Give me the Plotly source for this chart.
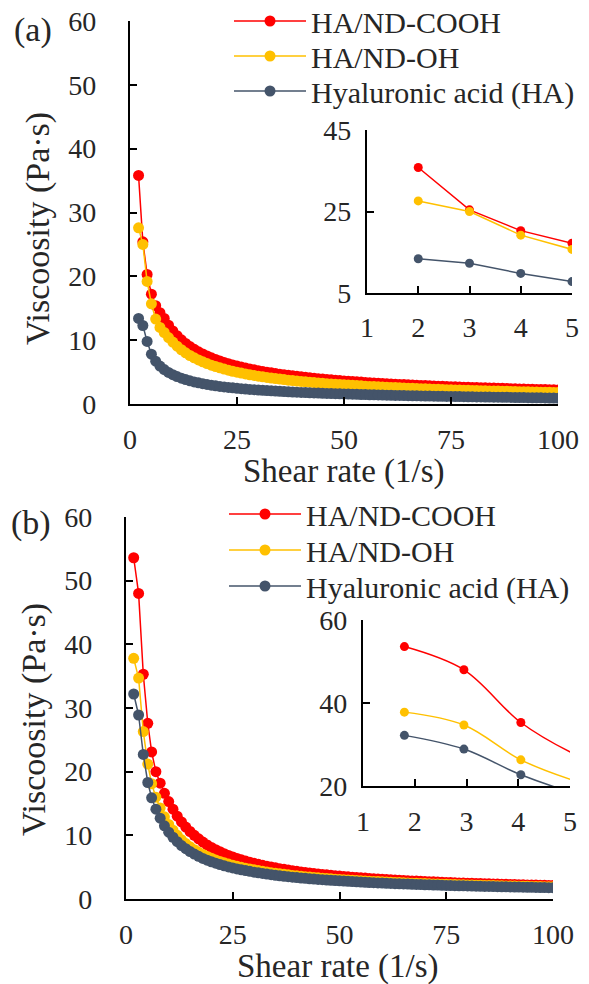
import plotly.graph_objects as go

# ---------------- data ----------------
names = ["HA/ND-COOH", "HA/ND-OH", "Hyaluronic acid (HA)"]
colors = ["#FF0000", "#FFC000", "#44546A"]

shear_a = list(range(2, 101))
cooh_a = [35.8, 25.4, 20.3, 17.2, 15.4, 14.3, 13.4, 12.35, 11.45, 10.7, 10.05, 9.49, 9.0, 8.57, 8.18,
          7.84, 7.52, 7.24, 6.98, 6.74, 6.52, 6.31, 6.12, 5.95, 5.78, 5.63, 5.48, 5.35, 5.22,
          5.10, 4.99, 4.88, 4.78, 4.68, 4.59, 4.50, 4.41, 4.33, 4.25,
          4.18, 4.11, 4.04, 3.97, 3.91, 3.85, 3.79, 3.73, 3.67, 3.62,
          3.57, 3.52, 3.47, 3.43, 3.38, 3.34, 3.30, 3.26, 3.22, 3.18,
          3.14, 3.11, 3.07, 3.04, 3.01, 2.97, 2.94, 2.91, 2.88, 2.85,
          2.82, 2.80, 2.77, 2.74, 2.72, 2.69, 2.67, 2.64, 2.62, 2.59,
          2.57, 2.55, 2.53, 2.51, 2.49, 2.47, 2.45, 2.43, 2.40, 2.38,
          2.36, 2.34, 2.33, 2.31, 2.29, 2.28, 2.26, 2.24, 2.23, 2.21]
oh_a = [27.6, 25.0, 19.2, 15.7, 13.3, 12.0, 11.2, 10.4, 9.7, 9.05, 8.5, 8.02, 7.6, 7.23, 6.9,
        6.6, 6.33, 6.09, 5.87, 5.66, 5.47, 5.3, 5.13, 4.98, 4.84, 4.71, 4.58, 4.47, 4.36,
        4.26, 4.16, 4.07, 3.98, 3.90, 3.82, 3.74, 3.67, 3.60, 3.53,
        3.47, 3.41, 3.35, 3.29, 3.24, 3.19, 3.14, 3.09, 3.04, 3.00,
        2.96, 2.92, 2.88, 2.84, 2.80, 2.76, 2.73, 2.69, 2.66, 2.63,
        2.60, 2.57, 2.54, 2.51, 2.48, 2.45, 2.42, 2.40, 2.37, 2.35,
        2.32, 2.30, 2.28, 2.25, 2.23, 2.21, 2.19, 2.17, 2.15, 2.13,
        2.11, 2.09, 2.07, 2.05, 2.03, 2.02, 2.00, 1.98, 1.97, 1.95,
        1.93, 1.92, 1.90, 1.89, 1.87, 1.86, 1.84, 1.83, 1.82, 1.80]
ha_a = [13.4, 12.3, 9.8, 7.8, 6.7, 5.95, 5.4, 4.95, 4.6, 4.3, 4.05, 3.83, 3.63, 3.46, 3.31,
        3.18, 3.06, 2.95, 2.85, 2.76, 2.68, 2.60, 2.53, 2.46, 2.40, 2.34, 2.29, 2.24, 2.19,
        2.14, 2.10, 2.06, 2.02, 1.98, 1.94, 1.91, 1.88, 1.85, 1.82,
        1.79, 1.76, 1.73, 1.71, 1.68, 1.66, 1.63, 1.61, 1.59, 1.57,
        1.55, 1.53, 1.51, 1.49, 1.47, 1.45, 1.43, 1.42, 1.40, 1.38,
        1.37, 1.35, 1.34, 1.32, 1.31, 1.29, 1.28, 1.27, 1.25, 1.24,
        1.23, 1.21, 1.20, 1.19, 1.18, 1.17, 1.16, 1.14, 1.13, 1.12,
        1.11, 1.10, 1.09, 1.08, 1.07, 1.06, 1.05, 1.04, 1.03, 1.02,
        1.01, 1.00, 0.99, 0.98, 0.97, 0.96, 0.95, 0.94, 0.93, 0.92]

shear_b = [1.8, 2.95, 4.05, 5.1] + list(range(6, 101))
cooh_b = [53.6, 48.0, 35.3, 27.6, 23.1, 20.0, 18.2, 16.6, 15.3, 14.1, 13.0, 12.1, 11.3, 10.6, 10.0,
          9.45, 8.95, 8.5, 8.1, 7.75, 7.42, 7.12, 6.85, 6.6, 6.37, 6.16, 5.96, 5.78, 5.6,
          5.44, 5.29, 5.15, 5.02, 4.89, 4.77, 4.66, 4.55, 4.45, 4.35,
          4.26, 4.17, 4.09, 4.01, 3.93, 3.86, 3.79, 3.72, 3.66, 3.60,
          3.54, 3.48, 3.43, 3.38, 3.33, 3.28, 3.23, 3.19, 3.14, 3.10,
          3.06, 3.02, 2.98, 2.95, 2.91, 2.88, 2.84, 2.81, 2.78, 2.75,
          2.72, 2.69, 2.66, 2.63, 2.61, 2.58, 2.56, 2.53, 2.51, 2.48,
          2.46, 2.44, 2.42, 2.40, 2.38, 2.36, 2.34, 2.32, 2.30, 2.28,
          2.26, 2.25, 2.23, 2.21, 2.20, 2.18, 2.16, 2.15, 2.13, 2.12]
oh_b = [37.8, 34.7, 26.3, 21.2, 18.1, 16.0, 14.3, 12.9, 11.7, 10.8, 10.0, 9.3, 8.7, 8.2, 7.75,
        7.35, 7.0, 6.68, 6.4, 6.14, 5.9, 5.69, 5.49, 5.31, 5.14, 4.99, 4.84, 4.71, 4.58,
        4.46, 4.35, 4.24, 4.14, 4.05, 3.96, 3.87, 3.79, 3.71, 3.64,
        3.57, 3.50, 3.44, 3.38, 3.32, 3.27, 3.22, 3.17, 3.12, 3.07,
        3.03, 2.99, 2.95, 2.91, 2.87, 2.83, 2.79, 2.76, 2.73, 2.70,
        2.67, 2.64, 2.61, 2.58, 2.55, 2.52, 2.49, 2.47, 2.44, 2.42,
        2.40, 2.37, 2.35, 2.33, 2.31, 2.29, 2.27, 2.25, 2.23, 2.21,
        2.19, 2.17, 2.16, 2.14, 2.12, 2.11, 2.09, 2.08, 2.06, 2.05,
        2.03, 2.02, 2.00, 1.99, 1.98, 1.96, 1.95, 1.94, 1.93, 1.92]
ha_b = [32.2, 28.9, 22.7, 18.3, 15.9, 14.1, 12.7, 11.5, 10.5, 9.7, 9.0, 8.4, 7.9, 7.45, 7.05,
        6.7, 6.38, 6.1, 5.85, 5.62, 5.41, 5.22, 5.04, 4.88, 4.73, 4.59, 4.46, 4.34, 4.22,
        4.11, 4.01, 3.91, 3.82, 3.73, 3.65, 3.57, 3.50, 3.43, 3.36,
        3.30, 3.24, 3.18, 3.13, 3.08, 3.03, 2.98, 2.93, 2.89, 2.85,
        2.81, 2.77, 2.73, 2.69, 2.66, 2.62, 2.59, 2.56, 2.53, 2.50,
        2.47, 2.44, 2.41, 2.39, 2.36, 2.34, 2.31, 2.29, 2.27, 2.24,
        2.22, 2.20, 2.18, 2.16, 2.14, 2.12, 2.10, 2.08, 2.07, 2.05,
        2.03, 2.01, 2.00, 1.98, 1.97, 1.95, 1.94, 1.92, 1.91, 1.89,
        1.88, 1.87, 1.85, 1.84, 1.83, 1.81, 1.80, 1.79, 1.78, 1.77]

main_xticks = [0, 25, 50, 75, 100]
main_yticks = [0, 10, 20, 30, 40, 50, 60]
inset_xticks = [1, 2, 3, 4, 5]
inset_a_yticks = [5, 25, 45]
inset_b_yticks = [20, 40, 60]

# ---------------- figure ----------------
W, H = 589, 984
FONT = "Liberation Serif"
TXT = "#262626"


def px_x(p):
    return p / W


def px_y(p):
    return 1 - p / H


fig = go.Figure()

panel_a = [cooh_a, oh_a, ha_a]
panel_b = [cooh_b, oh_b, ha_b]
legends_a = ["legend", "legend2", "legend3"]
legends_b = ["legend4", "legend5", "legend6"]

for vals, name, col, lg in zip(panel_a, names, colors, legends_a):
    fig.add_trace(go.Scatter(x=shear_a, y=vals, name=name, mode="lines+markers",
                             line=dict(color=col, width=1.5), marker=dict(color=col, size=11),
                             xaxis="x", yaxis="y", legend=lg))
for vals, name, col in zip(panel_a, names, colors):
    fig.add_trace(go.Scatter(x=shear_a[:5], y=vals[:5], name=name, mode="lines+markers",
                             line=dict(color=col, width=1.5), marker=dict(color=col, size=9),
                             xaxis="x2", yaxis="y2", showlegend=False))
for vals, name, col, lg in zip(panel_b, names, colors, legends_b):
    fig.add_trace(go.Scatter(x=shear_b, y=vals, name=name, mode="lines+markers",
                             line=dict(color=col, width=1.5), marker=dict(color=col, size=11),
                             xaxis="x3", yaxis="y3", legend=lg))
for vals, name, col in zip(panel_b, names, colors):
    fig.add_trace(go.Scatter(x=shear_b[:6], y=vals[:6], name=name, mode="lines+markers",
                             line=dict(color=col, width=1.5, shape="spline"),
                             marker=dict(color=col, size=9),
                             xaxis="x4", yaxis="y4", showlegend=False))


def ax(domain, rng, tickvals, anchor, size=28, standoff=0, ticklen=7):
    return dict(domain=domain, range=rng, tickvals=tickvals, anchor=anchor,
                showline=True, linecolor="black", linewidth=2.2, mirror=False,
                ticks="inside", ticklen=ticklen, tickwidth=2, tickcolor="black",
                showgrid=False, zeroline=False,
                tickfont=dict(family=FONT, size=size, color=TXT),
                ticklabelstandoff=standoff)


def leg(xp, yp):
    return dict(x=px_x(xp), y=px_y(yp), xanchor="left", yanchor="middle",
                bgcolor="rgba(0,0,0,0)", itemwidth=72, borderwidth=0,
                font=dict(family=FONT, size=30, color=TXT))


fig.update_layout(
    width=W, height=H,
    margin=dict(l=0, r=0, t=0, b=0, autoexpand=False),
    paper_bgcolor="white", plot_bgcolor="rgba(0,0,0,0)",
    font=dict(family=FONT, color=TXT),
    xaxis=ax([px_x(130), px_x(558)], [0, 100], main_xticks, "y", standoff=9),
    yaxis=ax([px_y(404), px_y(21)], [0, 60], main_yticks, "x", standoff=26),
    xaxis2=ax([px_x(367), px_x(572)], [1, 5], inset_xticks, "y2", standoff=8),
    yaxis2=ax([px_y(293), px_y(130)], [5, 45], inset_a_yticks, "x2", standoff=8),
    xaxis3=ax([px_x(126), px_x(553)], [0, 100], main_xticks, "y3", standoff=9),
    yaxis3=ax([px_y(899), px_y(517)], [0, 60], main_yticks, "x3", standoff=26),
    xaxis4=ax([px_x(363), px_x(570)], [1, 5], inset_xticks, "y4", standoff=9),
    yaxis4=ax([px_y(786), px_y(620)], [20, 60], inset_b_yticks, "x4", standoff=8),
    legend=leg(229, 21),
    legend2=leg(229, 56),
    legend3=leg(229, 91),
    legend4=leg(224, 514),
    legend5=leg(224, 550),
    legend6=leg(224, 586),
    showlegend=True,
)

anns = [
    dict(text="(a)", x=px_x(33), y=px_y(30), size=34),
    dict(text="(b)", x=px_x(31), y=px_y(523), size=34),
    dict(text="Viscoosity (Pa·s)", x=px_x(38), y=px_y(229), textangle=-90, size=34),
    dict(text="Viscoosity (Pa·s)", x=px_x(34), y=px_y(720), textangle=-90, size=34),
    dict(text="Shear rate (1/s)", x=px_x(344), y=px_y(471), size=33),
    dict(text="Shear rate (1/s)", x=px_x(338), y=px_y(966), size=33),
]
for a in anns:
    size = a.pop("size")
    fig.add_annotation(xref="paper", yref="paper", showarrow=False,
                       xanchor="center", yanchor="middle",
                       font=dict(family=FONT, size=size, color=TXT), **a)

fig.write_html(
    "out.html",
    config={"displayModeBar": False},
    post_script="document.body.style.margin='0';document.body.style.overflow='hidden';",
)
